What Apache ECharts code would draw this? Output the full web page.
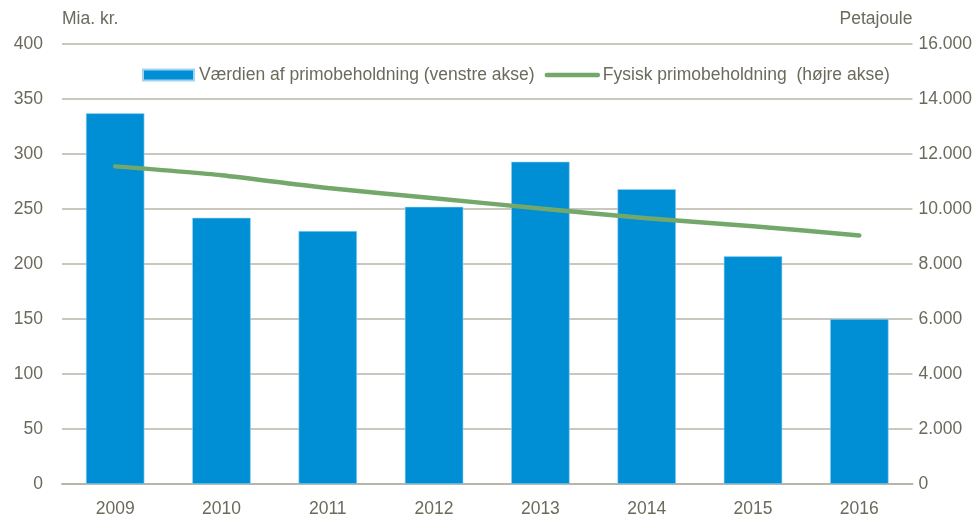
<!DOCTYPE html>
<html>
<head>
<meta charset="utf-8">
<script src="https://cdn.jsdelivr.net/npm/echarts@6/dist/echarts.min.js"></script>
<style>
  html, body { margin: 0; padding: 0; background: #fff; }
  #chart { width: 975px; height: 518px; }
</style>
</head>
<body>
<div id="chart"></div>
<script>
// data
var years = ['2009', '2010', '2011', '2012', '2013', '2014', '2015', '2016'];
var vaerdi = [337, 242, 230, 252, 293, 268, 207, 150];          // mia. kr.
var fysisk = [11550, 11230, 10760, 10390, 10020, 9660, 9370, 9040]; // petajoule

var textCol = '#6b6a5c';
var gridCol = '#b8b6a8';
var green = '#74a86a';

var myChart = echarts.init(document.getElementById('chart'));
var option = {
  animation: false,
  textStyle: { fontFamily: 'Liberation Sans, Arial, sans-serif' },
  grid: { left: 62, right: 59, top: 44, bottom: 34 },
  legend: {
    top: 61,
    left: 137,
    itemWidth: 51,
    itemHeight: 11,
    itemGap: 10,
    textStyle: { color: textCol, fontSize: 17.5 },
    data: [
      { name: 'Værdien af primobeholdning (venstre akse)', icon: 'rect' },
      {
        name: 'Fysisk primobeholdning  (højre akse)',
        itemStyle: { color: 'rgba(0,0,0,0)', borderWidth: 0 },
        lineStyle: { color: green, width: 4.5, cap: 'round' }
      }
    ]
  },
  xAxis: {
    type: 'category',
    data: years,
    axisLine: { lineStyle: { color: gridCol, width: 2 } },
    axisTick: { show: false },
    axisLabel: { color: textCol, fontSize: 17.5, margin: 16 }
  },
  yAxis: [
    {
      type: 'value',
      min: 0, max: 400, interval: 50,
      name: 'Mia. kr.',
      nameLocation: 'end',
      nameGap: 16,
      nameTextStyle: { color: textCol, fontSize: 17.5, align: 'left' },
      axisLine: { show: false },
      axisTick: { show: false },
      axisLabel: { color: textCol, fontSize: 17.5, margin: 19 },
      splitLine: { lineStyle: { color: gridCol, width: 1.5 } }
    },
    {
      type: 'value',
      min: 0, max: 16000, interval: 2000,
      name: 'Petajoule',
      nameLocation: 'end',
      nameGap: 16,
      nameTextStyle: { color: textCol, fontSize: 17.5, align: 'right' },
      axisLine: { show: false },
      axisTick: { show: false },
      splitLine: { show: false },
      axisLabel: {
        color: textCol, fontSize: 17.5, margin: 6,
        formatter: function (v) {
          return String(v).replace(/\B(?=(\d{3})+(?!\d))/g, '.');
        }
      }
    }
  ],
  series: [
    {
      name: 'Værdien af primobeholdning (venstre akse)',
      type: 'bar',
      yAxisIndex: 0,
      barWidth: '55%',
      itemStyle: { color: '#008fd5', borderColor: '#9fd3ef', borderWidth: 0.6 },
      data: vaerdi
    },
    {
      name: 'Fysisk primobeholdning  (højre akse)',
      type: 'line',
      yAxisIndex: 1,
      symbol: 'none',
      smooth: 0.2,
      lineStyle: { color: green, width: 4.5, cap: 'round' },
      itemStyle: { color: green },
      data: fysisk
    }
  ]
};
myChart.setOption(option);
</script>
</body>
</html>
